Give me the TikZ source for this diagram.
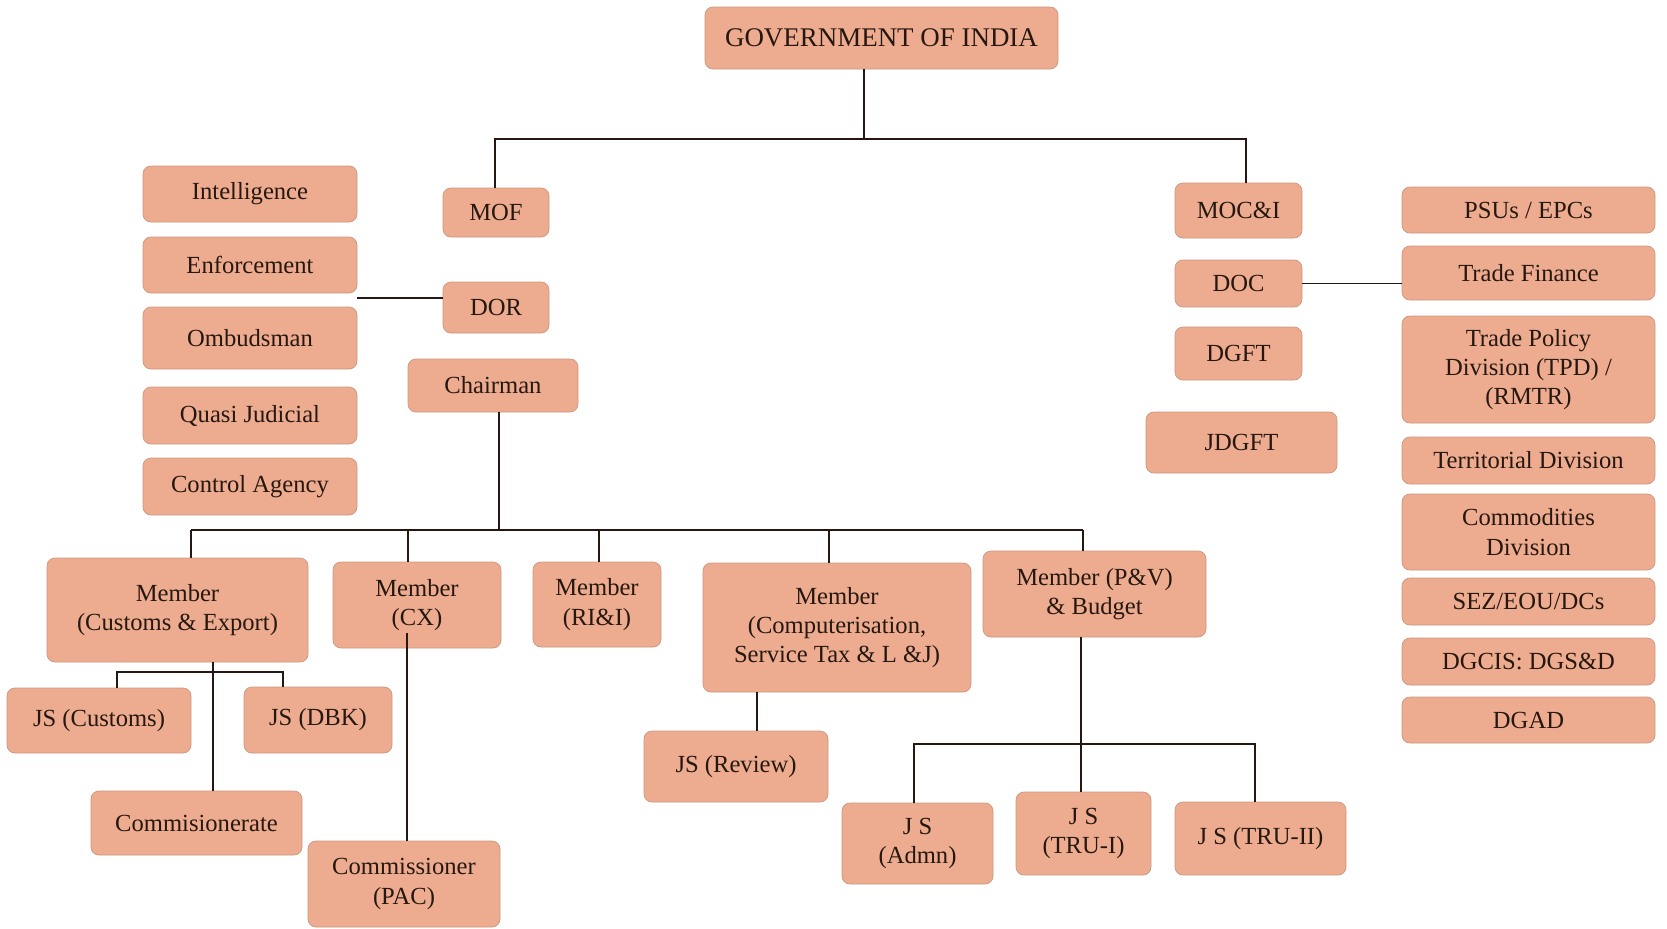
\documentclass[tikz,border=0pt]{standalone}
\usepackage{fontspec}
\setmainfont{Liberation Serif}
\definecolor{boxfill}{RGB}{237,172,143}
\definecolor{boxline}{RGB}{205,150,125}
\definecolor{ink}{RGB}{38,24,16}
\begin{document}
\begin{tikzpicture}[x=0.3mm, y=-0.3mm,
        unit/.style={draw=boxline, line width=0.6pt, fill=boxfill, rounded corners=2.4mm, text=ink,
            align=center, inner sep=0pt, font=\fontsize{21}{25}\selectfont},
        sz/.style 2 args={minimum width=#1*0.3mm, minimum height=#2*0.3mm},
        link/.style={ink, line width=1.3pt}]
        \useasboundingbox (0,0) rectangle (1667,929);
        % top of the chart
        \node[unit, sz={353}{62}, font=\fontsize{23}{27}\selectfont] (goi) at (881.5,38) {GOVERNMENT OF INDIA};
        \node[unit, sz={106}{49}] (mof) at (496,212.5) {MOF};
        \node[unit, sz={106}{51}] (dor) at (496,307.5) {DOR};
        \node[unit, sz={170}{53}] (chair) at (493,385.5) {Chairman};
        \node[unit, sz={127}{55}] (moci) at (1238.5,210.5) {MOC\&I};
        \node[unit, sz={127}{47}] (doc) at (1238.5,283.5) {DOC};
        \node[unit, sz={127}{53}] (dgft) at (1238.5,353.5) {DGFT};
        \node[unit, sz={191}{61}] (jdgft) at (1241.5,442.5) {JDGFT};
        % side columns
        \foreach \n/\y/\h/\t in {intel/194/56/Intelligence, enf/265/56/Enforcement, omb/338/62/Ombudsman,
            quasi/415.5/57/Quasi Judicial, ctrl/486.5/57/Control Agency}{
            \node[unit, sz={214}{\h}] (\n) at (250,\y) {\t};
        }
        \foreach \n/\y/\h/\t in {psu/210/46/{PSUs / EPCs}, tf/273/54/Trade Finance,
            tpd/369.5/107/{Trade Policy\\Division (TPD) /\\(RMTR)}, terr/460.5/47/Territorial Division,
            comm/532/76/{Commodities\\Division}, sez/601.5/47/{SEZ/EOU/DCs}, dgcis/661.5/47/{DGCIS: DGS\&D},
            dgad/720/46/DGAD}{
            \node[unit, sz={253}{\h}] (\n) at (1528.5,\y) {\t};
        }
        % members of the board
        \node[unit, sz={261}{104}] (mce) at (177.5,610) {Member\\(Customs \& Export)};
        \node[unit, sz={168}{86}] (mcx) at (417,605) {Member\\(CX)};
        \node[unit, sz={128}{85}] (mri) at (597,604.5) {Member\\(RI\&I)};
        \node[unit, sz={268}{129}] (mcomp) at (837,627.5) {Member\\(Computerisation,\\Service Tax \& L \&J)};
        \node[unit, sz={223}{86}] (mpv) at (1094.5,594) {Member (P\&V)\\\& Budget};
        % below the members
        \node[unit, sz={184}{65}] (jsc) at (99,720.5) {JS (Customs)};
        \node[unit, sz={148}{66}] (jsd) at (318,720) {JS (DBK)};
        \node[unit, sz={211}{64}] (comr) at (196.5,823) {Commisionerate};
        \node[unit, sz={192}{86}] (pac) at (404,884) {Commissioner\\(PAC)};
        \node[unit, sz={184}{71}] (jsr) at (736,766.5) {JS (Review)};
        \node[unit, sz={151}{81}] (jsa) at (917.5,843.5) {J S\\(Admn)};
        \node[unit, sz={135}{83}] (jst1) at (1083.5,833.5) {J S\\(TRU-I)};
        \node[unit, sz={171}{73}] (jst2) at (1260.5,838.5) {J S (TRU-II)};
        % connectors
        \coordinate (gbus) at (864,139);
        \coordinate (gl) at (495,139);
        \coordinate (gr) at (1246,139);
        \draw[link] (gbus |- goi.south) -- (gbus);
        \draw[link] (gl |- mof.north) -- (gl) -- (gr) -- (gr |- moci.north);
        \coordinate (lcol) at (357,298);
        \draw[link] (lcol) -- (lcol -| dor.west);
        \draw[link] (doc.east) -- (doc.east -| tf.west);
        \coordinate (chb) at (499,530);
        \coordinate (bl) at (191,530);
        \coordinate (br) at (1083,530);
        \draw[link] (chb |- chair.south) -- (chb);
        \draw[link] (bl) -- (br);
        \foreach \n/\x in {mce/191, mcx/408, mri/599, mcomp/829, mpv/1083}{
            \coordinate (d) at (\x,530);
            \draw[link] (d) -- (d |- \n.north);
        }
        \coordinate (cj) at (213,672);
        \coordinate (cl) at (117,672);
        \coordinate (cr) at (283,672);
        \draw[link] (cj |- mce.south) -- (cj |- comr.north);
        \draw[link] (cl |- jsc.north) -- (cl) -- (cr) -- (cr |- jsd.north);
        \coordinate (cxl) at (407,633);
        \draw[link] (cxl) -- (cxl |- pac.north);
        \coordinate (rv) at (757,700);
        \draw[link] (rv |- mcomp.south) -- (rv |- jsr.north);
        \coordinate (pj) at (1081,744);
        \coordinate (pl) at (914,744);
        \coordinate (pr) at (1255,744);
        \draw[link] (pj |- mpv.south) -- (pj |- jst1.north);
        \draw[link] (pl |- jsa.north) -- (pl) -- (pr) -- (pr |- jst2.north);
    \end{tikzpicture}
\end{document}
